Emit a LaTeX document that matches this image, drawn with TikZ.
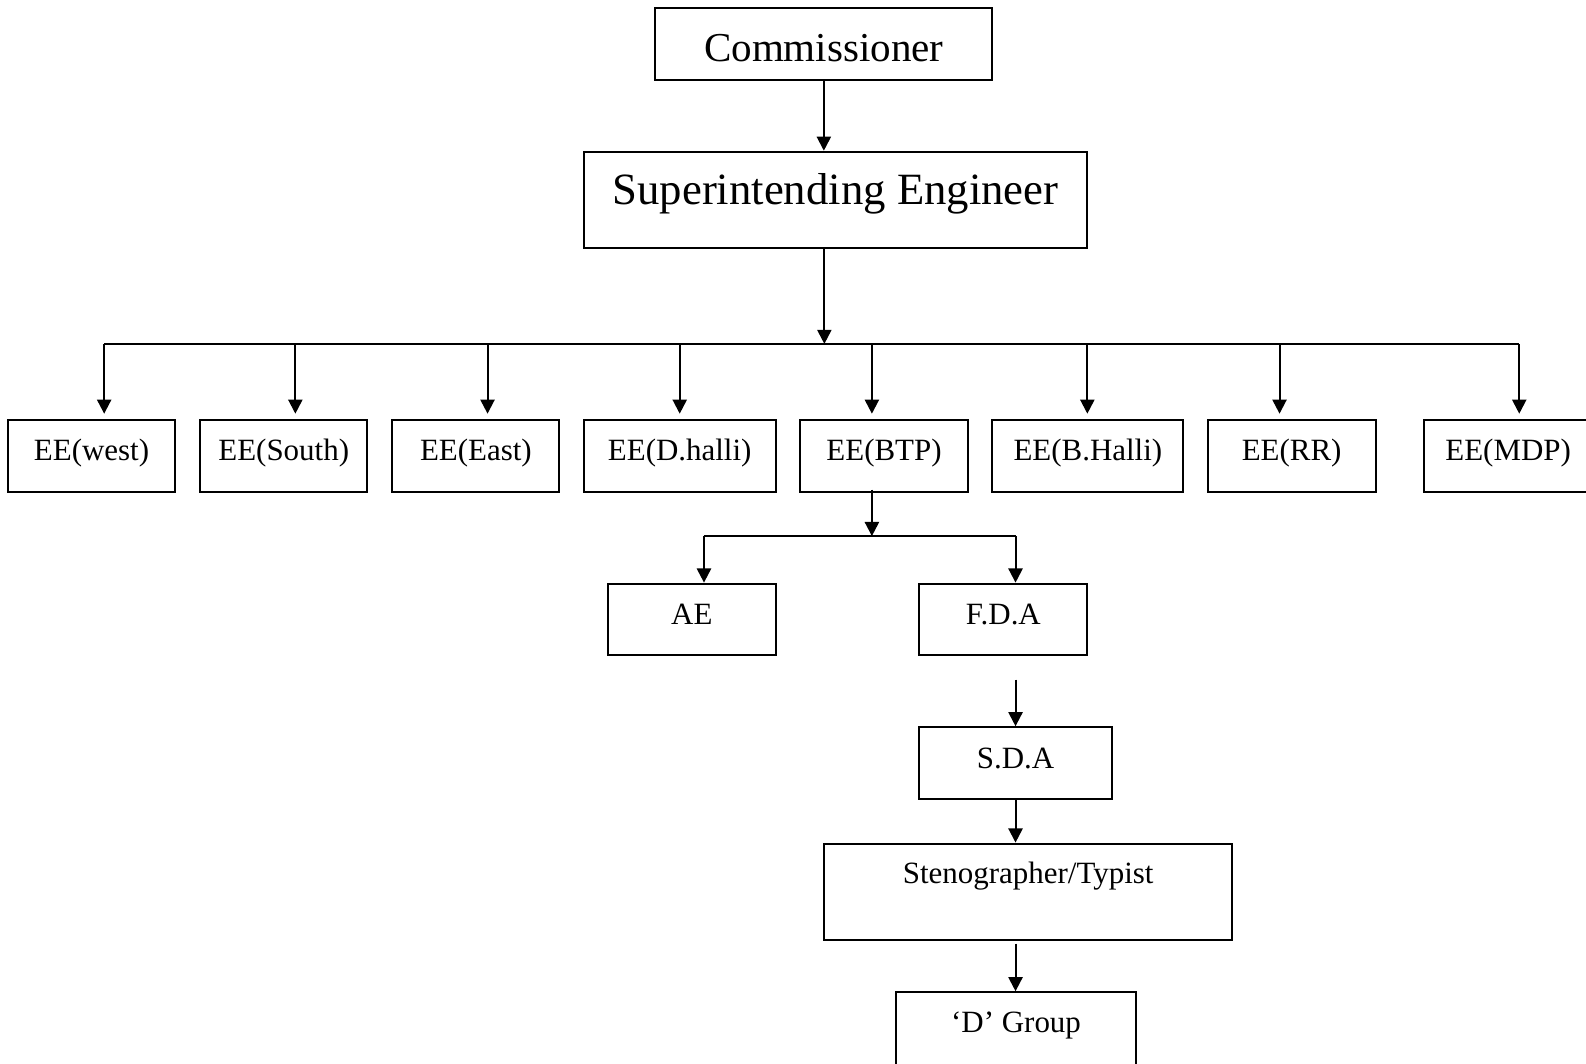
\documentclass[tikz,border=0pt]{standalone}
\usepackage{fontspec}
\usetikzlibrary{arrows.meta}
\setmainfont{Liberation Serif}
\newcommand{\boxfont}{\fontsize{15.3pt}{18pt}\selectfont}

\begin{document}
\begin{tikzpicture}[>={Triangle[length=7pt,width=7pt]},x=0.5pt,y=-0.5pt,line width=1pt,
    box/.style={draw,inner sep=0pt,minimum height=35.5pt,font=\boxfont,
      text height=10.7pt,text depth=5.6pt},
    tallbox/.style={box,minimum height=47.5pt,text depth=18.6pt}]
  \useasboundingbox (0,0) rectangle (1568,1051);
  %
  \node[box,minimum width=166.5pt,font=\fontsize{20.3pt}{24pt}\selectfont,
    text height=17.4pt,text depth=0pt] (comm) at (814.5,43.5) {Commissioner};
  \node[box,minimum width=249pt,minimum height=47.5pt,
    font=\fontsize{22.1pt}{26pt}\selectfont,
    text height=15.5pt,text depth=10.4pt] (se) at (826,197.5) {Superintending Engineer};
  \draw[->] (comm) -- (comm |- se.north);
  \coordinate (bus) at (815,340);
  \draw[->] (se.south -| bus) -- (bus);
  %
  \foreach \n/\x/\w/\t in {west/90.5/82.5/EE(west), south/280.5/82.5/EE(South),
      east/470.5/82.5/EE(East), dhalli/672/95/EE(D.halli), btp/874/83/EE(BTP),
      bhalli/1075.5/94.5/EE(B.Halli), rr/1277/83/EE(RR), mdp/1491/83/EE(MDP)}
    \node[box,minimum width=\w pt] (\n) at (\x,450.5) {\t};
  \foreach \n/\x in {west/103,south/292,east/482,dhalli/672,btp/862,
      bhalli/1075,rr/1265,mdp/1502} {
    \coordinate (d\n) at (\x,340);
    \draw[->,shorten >=2.5pt] (d\n) -- (d\n |- \n.north);
  }
  \draw (dwest) -- (dmdp);
  %
  \node[box,minimum width=83pt] (ae) at (684,612.5) {AE};
  \node[box,minimum width=83pt] (fda) at (992,612.5) {F.D.A};
  \coordinate (btpbus) at (862,530);
  \coordinate (aebus) at (696,530);
  \coordinate (fdabus) at (1004,530);
  \draw[->] (btpbus |- btp.south) ++(0,-3) -- (btpbus);
  \draw (aebus) -- (fdabus);
  \draw[->] (aebus) -- (aebus |- ae.north);
  \draw[->] (fdabus) -- (fdabus |- fda.north);
  %
  \node[box,minimum width=95pt] (sda) at (1004,754.5) {S.D.A};
  \node[tallbox,minimum width=201.5pt] (steno) at (1016.5,881.5) {Stenographer/Typist};
  \node[tallbox,minimum width=118.5pt] (dgroup) at (1004.5,1028.5) {`D' Group};
  \coordinate (fdagap) at (1004,672);
  \coordinate (stenogap) at (1004,933);
  \draw[->] (fdagap) -- (fdagap |- sda.north);
  \draw[->] (sda) -- (sda |- steno.north);
  \draw[->] (stenogap) -- (stenogap |- dgroup.north);
\end{tikzpicture}
\end{document}
